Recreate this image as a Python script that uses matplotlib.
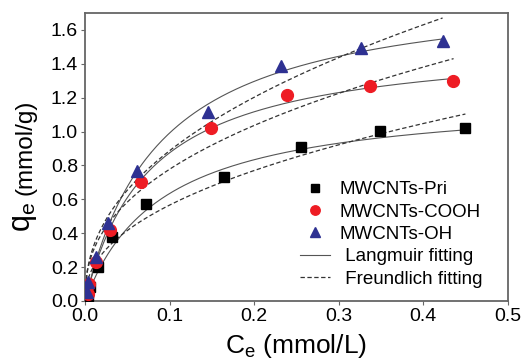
import numpy as np
import matplotlib
matplotlib.use('Agg')
import matplotlib.pyplot as plt

plt.rcParams['font.family'] = ['Liberation Sans', 'DejaVu Sans']
plt.rcParams['mathtext.fontset'] = 'custom'
plt.rcParams['mathtext.rm'] = 'Liberation Sans'
plt.rcParams['mathtext.it'] = 'Liberation Sans'

# measured points (Ce mmol/L, qe mmol/g)
pri_c = [0.003, 0.006, 0.015, 0.032, 0.072, 0.164, 0.255, 0.349, 0.449]
pri_q = [0.03, 0.08, 0.20, 0.376, 0.571, 0.734, 0.911, 1.006, 1.02]
cooh_c = [0.003, 0.005, 0.013, 0.029, 0.066, 0.149, 0.239, 0.337, 0.435]
cooh_q = [0.04, 0.10, 0.23, 0.42, 0.70, 1.018, 1.218, 1.266, 1.297]
oh_c = [0.002, 0.004, 0.0126, 0.027, 0.062, 0.145, 0.232, 0.326, 0.424]
oh_q = [0.05, 0.11, 0.26, 0.46, 0.77, 1.114, 1.388, 1.496, 1.537]

# fitted model parameters
lang_qm = [1.216, 1.544, 1.871]
lang_k = [10.9, 13.06, 11.27]
freu_kf = [1.573, 2.017, 2.437]
freu_n = [0.444, 0.414, 0.439]
fit_end = [0.45, 0.436, 0.423]

fig = plt.figure(figsize=(5.25, 3.6), dpi=100)
ax = fig.add_axes([0.162, 0.164, 0.805, 0.800])

for i in range(3):
    c = np.linspace(0, fit_end[i], 200)
    ax.plot(c, lang_qm[i] * lang_k[i] * c / (1 + lang_k[i] * c),
            color='#555555', lw=0.8, zorder=2)
    cf = np.linspace(0.0005, fit_end[i], 200)
    ax.plot(cf, freu_kf[i] * cf ** freu_n[i], color='#333333', lw=0.9,
            ls=(0, (3.5, 2)), zorder=2)

ax.plot(pri_c, pri_q, 's', color='black', ms=7.5, ls='none', zorder=3,
        label='MWCNTs-Pri')
ax.plot(cooh_c, cooh_q, 'o', color='#ee1c24', ms=8.5, ls='none', zorder=3,
        label='MWCNTs-COOH')
ax.plot(oh_c, oh_q, '^', color='#2e3192', ms=8.5, ls='none', zorder=3,
        label='MWCNTs-OH')
ax.plot([], [], color='#555555', lw=0.8, label=' Langmuir fitting')
ax.plot([], [], color='#333333', lw=0.9, ls=(0, (3.5, 2)),
        label=' Freundlich fitting')

ax.set_xlim(0, 0.5)
ax.set_ylim(0, 1.7)
ax.set_xticks([0.0, 0.1, 0.2, 0.3, 0.4, 0.5])
ax.set_xticklabels(['0.0', '0.1', '0.2', '0.3', '0.4', '0.5'])
ax.set_yticks(np.arange(0, 1.61, 0.2))
ax.set_yticklabels(['%.1f' % v for v in np.arange(0, 1.61, 0.2)])
ax.tick_params(direction='out', length=3, width=0.8, color='#666666',
               labelsize=14, pad=2)
for s in ax.spines.values():
    s.set_color('#666666')
    s.set_linewidth(1.3)

ax.set_xlabel(r'C$_\mathregular{e}$ (mmol/L)', fontsize=19, labelpad=5)
fig.text(0.048, 0.458, '(mmol/g)', rotation=90, fontsize=17.5,
         ha='center', va='bottom')
fig.text(0.046, 0.44, r'q$_\mathregular{e}$', rotation=90, fontsize=22,
         ha='center', va='top')

ax.legend(loc='upper left', bbox_to_anchor=(0.572, 0.497),
          bbox_transform=fig.transFigure, frameon=False,
          fontsize=13.5, handlelength=1.6, handletextpad=0.5,
          labelspacing=0.28, borderaxespad=0, borderpad=0, markerscale=0.8)

fig.savefig('out.png', dpi=100)
